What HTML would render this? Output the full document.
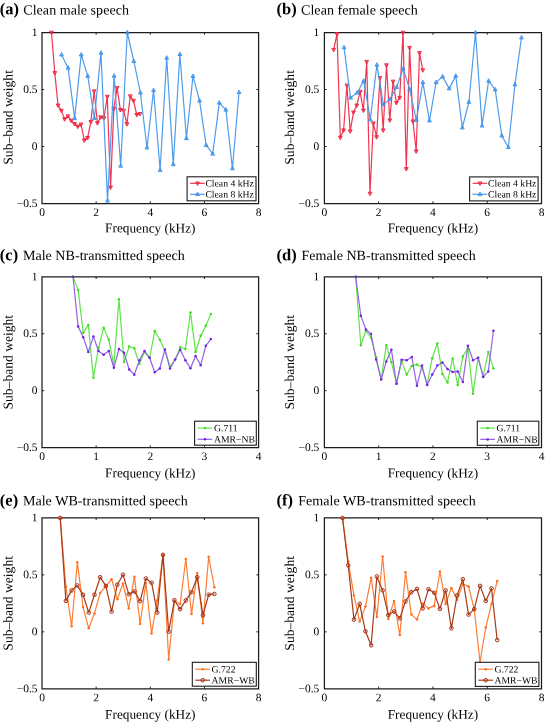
<!DOCTYPE html>
<html><head><meta charset="utf-8"><title>Sub-band weights</title><style>
html,body{margin:0;padding:0;background:#fff;}
body{width:545px;height:722px;overflow:hidden;font-family:"Liberation Serif",serif;}
svg{display:block;}
</style></head><body><svg width="545" height="722" viewBox="0 0 545 722" font-family="Liberation Serif, serif" fill="#000"><g opacity="0.999"><g><text transform="translate(42.00 216.00) matrix(1 0.001 0.001 1 0 0)" font-size="11.5" text-anchor="middle">0</text><path d="M96.15,203.5v-2.2M96.15,32.5v2.2" stroke="#1c1c1c" stroke-width="1"/><text transform="translate(96.15 216.00) matrix(1 0.001 0.001 1 0 0)" font-size="11.5" text-anchor="middle">2</text><path d="M150.30,203.5v-2.2M150.30,32.5v2.2" stroke="#1c1c1c" stroke-width="1"/><text transform="translate(150.30 216.00) matrix(1 0.001 0.001 1 0 0)" font-size="11.5" text-anchor="middle">4</text><path d="M204.45,203.5v-2.2M204.45,32.5v2.2" stroke="#1c1c1c" stroke-width="1"/><text transform="translate(204.45 216.00) matrix(1 0.001 0.001 1 0 0)" font-size="11.5" text-anchor="middle">6</text><text transform="translate(258.60 216.00) matrix(1 0.001 0.001 1 0 0)" font-size="11.5" text-anchor="middle">8</text><text transform="translate(37.60 35.90) matrix(1 0.001 0.001 1 0 0)" font-size="11.5" text-anchor="end">1</text><path d="M42.0,89.50h2.2M258.6,89.50h-2.2" stroke="#1c1c1c" stroke-width="1"/><text transform="translate(37.60 92.90) matrix(1 0.001 0.001 1 0 0)" font-size="11.5" text-anchor="end">0.5</text><path d="M42.0,146.50h2.2M258.6,146.50h-2.2" stroke="#1c1c1c" stroke-width="1"/><text transform="translate(37.60 149.90) matrix(1 0.001 0.001 1 0 0)" font-size="11.5" text-anchor="end">0</text><text transform="translate(37.60 206.90) matrix(1 0.001 0.001 1 0 0)" font-size="11.5" text-anchor="end">−0.5</text><path d="M42.0,32.5H258.6M42.0,203.5H258.6M42.0,32.5V203.5M258.6,32.5V203.5" fill="none" stroke="#1c1c1c" stroke-width="1.25" stroke-linecap="square"/><path d="M51.50,32.50L54.78,72.90L58.06,105.30L61.34,110.60L64.62,119.10L67.90,116.10L71.18,120.50L74.46,123.80L77.74,126.50L81.02,124.30L84.30,140.20L87.58,137.80L90.86,121.80L94.14,91.10L97.42,123.00L100.70,117.10L103.98,118.10L107.26,96.60L110.54,187.40L113.82,108.60L117.10,87.90L120.38,109.80L123.66,110.60L126.94,124.00L130.22,96.10L133.50,100.60L136.78,114.80L140.06,113.80" fill="none" stroke="#f03552" stroke-width="1.2" stroke-linejoin="round"/><path d="M49.60,31.20L53.40,31.20L51.50,34.70Z" fill="#f0203a" fill-opacity="0.5" stroke="#f0203a" stroke-width="0.9"/><path d="M52.88,71.60L56.68,71.60L54.78,75.10Z" fill="#f0203a" fill-opacity="0.5" stroke="#f0203a" stroke-width="0.9"/><path d="M56.16,104.00L59.96,104.00L58.06,107.50Z" fill="#f0203a" fill-opacity="0.5" stroke="#f0203a" stroke-width="0.9"/><path d="M59.44,109.30L63.24,109.30L61.34,112.80Z" fill="#f0203a" fill-opacity="0.5" stroke="#f0203a" stroke-width="0.9"/><path d="M62.72,117.80L66.52,117.80L64.62,121.30Z" fill="#f0203a" fill-opacity="0.5" stroke="#f0203a" stroke-width="0.9"/><path d="M66.00,114.80L69.80,114.80L67.90,118.30Z" fill="#f0203a" fill-opacity="0.5" stroke="#f0203a" stroke-width="0.9"/><path d="M69.28,119.20L73.08,119.20L71.18,122.70Z" fill="#f0203a" fill-opacity="0.5" stroke="#f0203a" stroke-width="0.9"/><path d="M72.56,122.50L76.36,122.50L74.46,126.00Z" fill="#f0203a" fill-opacity="0.5" stroke="#f0203a" stroke-width="0.9"/><path d="M75.84,125.20L79.64,125.20L77.74,128.70Z" fill="#f0203a" fill-opacity="0.5" stroke="#f0203a" stroke-width="0.9"/><path d="M79.12,123.00L82.92,123.00L81.02,126.50Z" fill="#f0203a" fill-opacity="0.5" stroke="#f0203a" stroke-width="0.9"/><path d="M82.40,138.90L86.20,138.90L84.30,142.40Z" fill="#f0203a" fill-opacity="0.5" stroke="#f0203a" stroke-width="0.9"/><path d="M85.68,136.50L89.48,136.50L87.58,140.00Z" fill="#f0203a" fill-opacity="0.5" stroke="#f0203a" stroke-width="0.9"/><path d="M88.96,120.50L92.76,120.50L90.86,124.00Z" fill="#f0203a" fill-opacity="0.5" stroke="#f0203a" stroke-width="0.9"/><path d="M92.24,89.80L96.04,89.80L94.14,93.30Z" fill="#f0203a" fill-opacity="0.5" stroke="#f0203a" stroke-width="0.9"/><path d="M95.52,121.70L99.32,121.70L97.42,125.20Z" fill="#f0203a" fill-opacity="0.5" stroke="#f0203a" stroke-width="0.9"/><path d="M98.80,115.80L102.60,115.80L100.70,119.30Z" fill="#f0203a" fill-opacity="0.5" stroke="#f0203a" stroke-width="0.9"/><path d="M102.08,116.80L105.88,116.80L103.98,120.30Z" fill="#f0203a" fill-opacity="0.5" stroke="#f0203a" stroke-width="0.9"/><path d="M105.36,95.30L109.16,95.30L107.26,98.80Z" fill="#f0203a" fill-opacity="0.5" stroke="#f0203a" stroke-width="0.9"/><path d="M108.64,186.10L112.44,186.10L110.54,189.60Z" fill="#f0203a" fill-opacity="0.5" stroke="#f0203a" stroke-width="0.9"/><path d="M111.92,107.30L115.72,107.30L113.82,110.80Z" fill="#f0203a" fill-opacity="0.5" stroke="#f0203a" stroke-width="0.9"/><path d="M115.20,86.60L119.00,86.60L117.10,90.10Z" fill="#f0203a" fill-opacity="0.5" stroke="#f0203a" stroke-width="0.9"/><path d="M118.48,108.50L122.28,108.50L120.38,112.00Z" fill="#f0203a" fill-opacity="0.5" stroke="#f0203a" stroke-width="0.9"/><path d="M121.76,109.30L125.56,109.30L123.66,112.80Z" fill="#f0203a" fill-opacity="0.5" stroke="#f0203a" stroke-width="0.9"/><path d="M125.04,122.70L128.84,122.70L126.94,126.20Z" fill="#f0203a" fill-opacity="0.5" stroke="#f0203a" stroke-width="0.9"/><path d="M128.32,94.80L132.12,94.80L130.22,98.30Z" fill="#f0203a" fill-opacity="0.5" stroke="#f0203a" stroke-width="0.9"/><path d="M131.60,99.30L135.40,99.30L133.50,102.80Z" fill="#f0203a" fill-opacity="0.5" stroke="#f0203a" stroke-width="0.9"/><path d="M134.88,113.50L138.68,113.50L136.78,117.00Z" fill="#f0203a" fill-opacity="0.5" stroke="#f0203a" stroke-width="0.9"/><path d="M138.16,112.50L141.96,112.50L140.06,116.00Z" fill="#f0203a" fill-opacity="0.5" stroke="#f0203a" stroke-width="0.9"/><path d="M61.50,54.70L68.08,67.90L74.65,118.30L81.22,54.70L87.80,76.10L94.38,118.30L100.95,52.90L107.53,200.80L114.10,75.90L120.68,165.90L127.25,32.50L133.82,61.20L140.40,92.80L146.98,147.70L153.55,90.30L160.12,170.10L166.70,57.90L173.28,164.40L179.85,54.20L186.43,138.40L193.00,76.10L199.58,100.80L206.15,145.20L212.72,153.90L219.30,102.80L225.88,109.80L232.45,168.40L239.03,92.30" fill="none" stroke="#4f9cec" stroke-width="1.2" stroke-linejoin="round"/><path d="M59.60,56.00L63.40,56.00L61.50,52.50Z" fill="#3a8ee6" fill-opacity="0.5" stroke="#3a8ee6" stroke-width="0.9"/><path d="M66.17,69.20L69.98,69.20L68.08,65.70Z" fill="#3a8ee6" fill-opacity="0.5" stroke="#3a8ee6" stroke-width="0.9"/><path d="M72.75,119.60L76.55,119.60L74.65,116.10Z" fill="#3a8ee6" fill-opacity="0.5" stroke="#3a8ee6" stroke-width="0.9"/><path d="M79.32,56.00L83.12,56.00L81.22,52.50Z" fill="#3a8ee6" fill-opacity="0.5" stroke="#3a8ee6" stroke-width="0.9"/><path d="M85.90,77.40L89.70,77.40L87.80,73.90Z" fill="#3a8ee6" fill-opacity="0.5" stroke="#3a8ee6" stroke-width="0.9"/><path d="M92.47,119.60L96.28,119.60L94.38,116.10Z" fill="#3a8ee6" fill-opacity="0.5" stroke="#3a8ee6" stroke-width="0.9"/><path d="M99.05,54.20L102.85,54.20L100.95,50.70Z" fill="#3a8ee6" fill-opacity="0.5" stroke="#3a8ee6" stroke-width="0.9"/><path d="M105.62,202.10L109.43,202.10L107.53,198.60Z" fill="#3a8ee6" fill-opacity="0.5" stroke="#3a8ee6" stroke-width="0.9"/><path d="M112.20,77.20L116.00,77.20L114.10,73.70Z" fill="#3a8ee6" fill-opacity="0.5" stroke="#3a8ee6" stroke-width="0.9"/><path d="M118.78,167.20L122.58,167.20L120.68,163.70Z" fill="#3a8ee6" fill-opacity="0.5" stroke="#3a8ee6" stroke-width="0.9"/><path d="M125.35,33.80L129.15,33.80L127.25,30.30Z" fill="#3a8ee6" fill-opacity="0.5" stroke="#3a8ee6" stroke-width="0.9"/><path d="M131.92,62.50L135.72,62.50L133.82,59.00Z" fill="#3a8ee6" fill-opacity="0.5" stroke="#3a8ee6" stroke-width="0.9"/><path d="M138.50,94.10L142.30,94.10L140.40,90.60Z" fill="#3a8ee6" fill-opacity="0.5" stroke="#3a8ee6" stroke-width="0.9"/><path d="M145.08,149.00L148.88,149.00L146.98,145.50Z" fill="#3a8ee6" fill-opacity="0.5" stroke="#3a8ee6" stroke-width="0.9"/><path d="M151.65,91.60L155.45,91.60L153.55,88.10Z" fill="#3a8ee6" fill-opacity="0.5" stroke="#3a8ee6" stroke-width="0.9"/><path d="M158.22,171.40L162.03,171.40L160.12,167.90Z" fill="#3a8ee6" fill-opacity="0.5" stroke="#3a8ee6" stroke-width="0.9"/><path d="M164.80,59.20L168.60,59.20L166.70,55.70Z" fill="#3a8ee6" fill-opacity="0.5" stroke="#3a8ee6" stroke-width="0.9"/><path d="M171.38,165.70L175.18,165.70L173.28,162.20Z" fill="#3a8ee6" fill-opacity="0.5" stroke="#3a8ee6" stroke-width="0.9"/><path d="M177.95,55.50L181.75,55.50L179.85,52.00Z" fill="#3a8ee6" fill-opacity="0.5" stroke="#3a8ee6" stroke-width="0.9"/><path d="M184.53,139.70L188.33,139.70L186.43,136.20Z" fill="#3a8ee6" fill-opacity="0.5" stroke="#3a8ee6" stroke-width="0.9"/><path d="M191.10,77.40L194.90,77.40L193.00,73.90Z" fill="#3a8ee6" fill-opacity="0.5" stroke="#3a8ee6" stroke-width="0.9"/><path d="M197.68,102.10L201.48,102.10L199.58,98.60Z" fill="#3a8ee6" fill-opacity="0.5" stroke="#3a8ee6" stroke-width="0.9"/><path d="M204.25,146.50L208.05,146.50L206.15,143.00Z" fill="#3a8ee6" fill-opacity="0.5" stroke="#3a8ee6" stroke-width="0.9"/><path d="M210.82,155.20L214.62,155.20L212.72,151.70Z" fill="#3a8ee6" fill-opacity="0.5" stroke="#3a8ee6" stroke-width="0.9"/><path d="M217.40,104.10L221.20,104.10L219.30,100.60Z" fill="#3a8ee6" fill-opacity="0.5" stroke="#3a8ee6" stroke-width="0.9"/><path d="M223.97,111.10L227.78,111.10L225.88,107.60Z" fill="#3a8ee6" fill-opacity="0.5" stroke="#3a8ee6" stroke-width="0.9"/><path d="M230.55,169.70L234.35,169.70L232.45,166.20Z" fill="#3a8ee6" fill-opacity="0.5" stroke="#3a8ee6" stroke-width="0.9"/><path d="M237.12,93.60L240.93,93.60L239.03,90.10Z" fill="#3a8ee6" fill-opacity="0.5" stroke="#3a8ee6" stroke-width="0.9"/><rect x="187.1" y="176.8" width="68.90" height="24.00" fill="#fff" stroke="#1c1c1c" stroke-width="1.1"/><path d="M190.10,183.3H204.70" stroke="#f03552" stroke-width="1.2"/><path d="M195.60,182.00L199.40,182.00L197.50,185.50Z" fill="#f0203a" fill-opacity="0.5" stroke="#f0203a" stroke-width="0.9"/><text transform="translate(205.40 186.50) matrix(1 0.001 0.001 1 0 0)" font-size="9.7">Clean 4 kHz</text><path d="M190.10,194.3H204.70" stroke="#4f9cec" stroke-width="1.2"/><path d="M195.60,195.60L199.40,195.60L197.50,192.10Z" fill="#3a8ee6" fill-opacity="0.5" stroke="#3a8ee6" stroke-width="0.9"/><text transform="translate(205.40 197.50) matrix(1 0.001 0.001 1 0 0)" font-size="9.7">Clean 8 kHz</text><text transform="translate(-0.15 14.20) matrix(1 0.001 0.001 1 0 0)" font-size="16.5" font-weight="bold">(a)</text><text transform="translate(23.30 14.50) matrix(1 0.001 0.001 1 0 0)" font-size="14" textLength="105.65" lengthAdjust="spacingAndGlyphs">Clean male speech</text><text transform="translate(150.30 232.40) matrix(1 0.001 0.001 1 0 0)" font-size="13.3" text-anchor="middle">Frequency (kHz)</text><text transform="translate(12.50 117.40) rotate(-90) matrix(1 0.001 0.001 1 0 0)" font-size="13.5" text-anchor="middle" textLength="94.60" lengthAdjust="spacingAndGlyphs">Sub–band weight</text></g><g><text transform="translate(324.40 216.00) matrix(1 0.001 0.001 1 0 0)" font-size="11.5" text-anchor="middle">0</text><path d="M378.67,203.5v-2.2M378.67,32.5v2.2" stroke="#1c1c1c" stroke-width="1"/><text transform="translate(378.67 216.00) matrix(1 0.001 0.001 1 0 0)" font-size="11.5" text-anchor="middle">2</text><path d="M432.95,203.5v-2.2M432.95,32.5v2.2" stroke="#1c1c1c" stroke-width="1"/><text transform="translate(432.95 216.00) matrix(1 0.001 0.001 1 0 0)" font-size="11.5" text-anchor="middle">4</text><path d="M487.23,203.5v-2.2M487.23,32.5v2.2" stroke="#1c1c1c" stroke-width="1"/><text transform="translate(487.23 216.00) matrix(1 0.001 0.001 1 0 0)" font-size="11.5" text-anchor="middle">6</text><text transform="translate(541.50 216.00) matrix(1 0.001 0.001 1 0 0)" font-size="11.5" text-anchor="middle">8</text><text transform="translate(319.35 35.90) matrix(1 0.001 0.001 1 0 0)" font-size="11.5" text-anchor="end">1</text><path d="M324.4,89.50h2.2M541.5,89.50h-2.2" stroke="#1c1c1c" stroke-width="1"/><text transform="translate(319.35 92.90) matrix(1 0.001 0.001 1 0 0)" font-size="11.5" text-anchor="end">0.5</text><path d="M324.4,146.50h2.2M541.5,146.50h-2.2" stroke="#1c1c1c" stroke-width="1"/><text transform="translate(319.35 149.90) matrix(1 0.001 0.001 1 0 0)" font-size="11.5" text-anchor="end">0</text><text transform="translate(319.35 206.90) matrix(1 0.001 0.001 1 0 0)" font-size="11.5" text-anchor="end">−0.5</text><path d="M324.4,32.5H541.5M324.4,203.5H541.5M324.4,32.5V203.5M541.5,32.5V203.5" fill="none" stroke="#1c1c1c" stroke-width="1.25" stroke-linecap="square"/><path d="M333.70,49.70L337.00,34.00L340.30,137.50L343.60,130.20L346.90,85.30L350.20,131.20L353.50,112.30L356.80,105.30L360.10,91.60L363.40,110.30L366.70,61.70L370.00,193.50L373.30,123.20L376.60,137.00L379.90,77.90L383.20,130.20L386.50,65.10L389.80,120.20L393.10,81.40L396.40,102.80L399.70,97.60L403.00,32.50L406.30,168.90L409.60,47.70L412.90,121.20L416.20,151.20L419.50,52.90L422.80,70.10" fill="none" stroke="#f03552" stroke-width="1.2" stroke-linejoin="round"/><path d="M331.80,48.40L335.60,48.40L333.70,51.90Z" fill="#f0203a" fill-opacity="0.5" stroke="#f0203a" stroke-width="0.9"/><path d="M335.10,32.70L338.90,32.70L337.00,36.20Z" fill="#f0203a" fill-opacity="0.5" stroke="#f0203a" stroke-width="0.9"/><path d="M338.40,136.20L342.20,136.20L340.30,139.70Z" fill="#f0203a" fill-opacity="0.5" stroke="#f0203a" stroke-width="0.9"/><path d="M341.70,128.90L345.50,128.90L343.60,132.40Z" fill="#f0203a" fill-opacity="0.5" stroke="#f0203a" stroke-width="0.9"/><path d="M345.00,84.00L348.80,84.00L346.90,87.50Z" fill="#f0203a" fill-opacity="0.5" stroke="#f0203a" stroke-width="0.9"/><path d="M348.30,129.90L352.10,129.90L350.20,133.40Z" fill="#f0203a" fill-opacity="0.5" stroke="#f0203a" stroke-width="0.9"/><path d="M351.60,111.00L355.40,111.00L353.50,114.50Z" fill="#f0203a" fill-opacity="0.5" stroke="#f0203a" stroke-width="0.9"/><path d="M354.90,104.00L358.70,104.00L356.80,107.50Z" fill="#f0203a" fill-opacity="0.5" stroke="#f0203a" stroke-width="0.9"/><path d="M358.20,90.30L362.00,90.30L360.10,93.80Z" fill="#f0203a" fill-opacity="0.5" stroke="#f0203a" stroke-width="0.9"/><path d="M361.50,109.00L365.30,109.00L363.40,112.50Z" fill="#f0203a" fill-opacity="0.5" stroke="#f0203a" stroke-width="0.9"/><path d="M364.80,60.40L368.60,60.40L366.70,63.90Z" fill="#f0203a" fill-opacity="0.5" stroke="#f0203a" stroke-width="0.9"/><path d="M368.10,192.20L371.90,192.20L370.00,195.70Z" fill="#f0203a" fill-opacity="0.5" stroke="#f0203a" stroke-width="0.9"/><path d="M371.40,121.90L375.20,121.90L373.30,125.40Z" fill="#f0203a" fill-opacity="0.5" stroke="#f0203a" stroke-width="0.9"/><path d="M374.70,135.70L378.50,135.70L376.60,139.20Z" fill="#f0203a" fill-opacity="0.5" stroke="#f0203a" stroke-width="0.9"/><path d="M378.00,76.60L381.80,76.60L379.90,80.10Z" fill="#f0203a" fill-opacity="0.5" stroke="#f0203a" stroke-width="0.9"/><path d="M381.30,128.90L385.10,128.90L383.20,132.40Z" fill="#f0203a" fill-opacity="0.5" stroke="#f0203a" stroke-width="0.9"/><path d="M384.60,63.80L388.40,63.80L386.50,67.30Z" fill="#f0203a" fill-opacity="0.5" stroke="#f0203a" stroke-width="0.9"/><path d="M387.90,118.90L391.70,118.90L389.80,122.40Z" fill="#f0203a" fill-opacity="0.5" stroke="#f0203a" stroke-width="0.9"/><path d="M391.20,80.10L395.00,80.10L393.10,83.60Z" fill="#f0203a" fill-opacity="0.5" stroke="#f0203a" stroke-width="0.9"/><path d="M394.50,101.50L398.30,101.50L396.40,105.00Z" fill="#f0203a" fill-opacity="0.5" stroke="#f0203a" stroke-width="0.9"/><path d="M397.80,96.30L401.60,96.30L399.70,99.80Z" fill="#f0203a" fill-opacity="0.5" stroke="#f0203a" stroke-width="0.9"/><path d="M401.10,31.20L404.90,31.20L403.00,34.70Z" fill="#f0203a" fill-opacity="0.5" stroke="#f0203a" stroke-width="0.9"/><path d="M404.40,167.60L408.20,167.60L406.30,171.10Z" fill="#f0203a" fill-opacity="0.5" stroke="#f0203a" stroke-width="0.9"/><path d="M407.70,46.40L411.50,46.40L409.60,49.90Z" fill="#f0203a" fill-opacity="0.5" stroke="#f0203a" stroke-width="0.9"/><path d="M411.00,119.90L414.80,119.90L412.90,123.40Z" fill="#f0203a" fill-opacity="0.5" stroke="#f0203a" stroke-width="0.9"/><path d="M414.30,149.90L418.10,149.90L416.20,153.40Z" fill="#f0203a" fill-opacity="0.5" stroke="#f0203a" stroke-width="0.9"/><path d="M417.60,51.60L421.40,51.60L419.50,55.10Z" fill="#f0203a" fill-opacity="0.5" stroke="#f0203a" stroke-width="0.9"/><path d="M420.90,68.80L424.70,68.80L422.80,72.30Z" fill="#f0203a" fill-opacity="0.5" stroke="#f0203a" stroke-width="0.9"/><path d="M344.00,47.40L350.57,97.80L357.15,92.80L363.72,80.90L370.30,119.70L376.87,64.90L383.44,104.50L390.02,99.10L396.59,87.10L403.17,68.60L409.74,89.60L416.31,120.20L422.89,82.40L429.46,120.70L436.04,82.40L442.61,76.60L449.18,88.60L455.76,75.90L462.33,127.70L468.91,102.00L475.48,32.50L482.05,125.70L488.63,80.90L495.20,89.60L501.78,135.70L508.35,147.20L514.92,84.60L521.50,37.50" fill="none" stroke="#4f9cec" stroke-width="1.2" stroke-linejoin="round"/><path d="M342.10,48.70L345.90,48.70L344.00,45.20Z" fill="#3a8ee6" fill-opacity="0.5" stroke="#3a8ee6" stroke-width="0.9"/><path d="M348.67,99.10L352.47,99.10L350.57,95.60Z" fill="#3a8ee6" fill-opacity="0.5" stroke="#3a8ee6" stroke-width="0.9"/><path d="M355.25,94.10L359.05,94.10L357.15,90.60Z" fill="#3a8ee6" fill-opacity="0.5" stroke="#3a8ee6" stroke-width="0.9"/><path d="M361.82,82.20L365.62,82.20L363.72,78.70Z" fill="#3a8ee6" fill-opacity="0.5" stroke="#3a8ee6" stroke-width="0.9"/><path d="M368.40,121.00L372.20,121.00L370.30,117.50Z" fill="#3a8ee6" fill-opacity="0.5" stroke="#3a8ee6" stroke-width="0.9"/><path d="M374.97,66.20L378.77,66.20L376.87,62.70Z" fill="#3a8ee6" fill-opacity="0.5" stroke="#3a8ee6" stroke-width="0.9"/><path d="M381.54,105.80L385.34,105.80L383.44,102.30Z" fill="#3a8ee6" fill-opacity="0.5" stroke="#3a8ee6" stroke-width="0.9"/><path d="M388.12,100.40L391.92,100.40L390.02,96.90Z" fill="#3a8ee6" fill-opacity="0.5" stroke="#3a8ee6" stroke-width="0.9"/><path d="M394.69,88.40L398.49,88.40L396.59,84.90Z" fill="#3a8ee6" fill-opacity="0.5" stroke="#3a8ee6" stroke-width="0.9"/><path d="M401.27,69.90L405.07,69.90L403.17,66.40Z" fill="#3a8ee6" fill-opacity="0.5" stroke="#3a8ee6" stroke-width="0.9"/><path d="M407.84,90.90L411.64,90.90L409.74,87.40Z" fill="#3a8ee6" fill-opacity="0.5" stroke="#3a8ee6" stroke-width="0.9"/><path d="M414.41,121.50L418.21,121.50L416.31,118.00Z" fill="#3a8ee6" fill-opacity="0.5" stroke="#3a8ee6" stroke-width="0.9"/><path d="M420.99,83.70L424.79,83.70L422.89,80.20Z" fill="#3a8ee6" fill-opacity="0.5" stroke="#3a8ee6" stroke-width="0.9"/><path d="M427.56,122.00L431.36,122.00L429.46,118.50Z" fill="#3a8ee6" fill-opacity="0.5" stroke="#3a8ee6" stroke-width="0.9"/><path d="M434.14,83.70L437.94,83.70L436.04,80.20Z" fill="#3a8ee6" fill-opacity="0.5" stroke="#3a8ee6" stroke-width="0.9"/><path d="M440.71,77.90L444.51,77.90L442.61,74.40Z" fill="#3a8ee6" fill-opacity="0.5" stroke="#3a8ee6" stroke-width="0.9"/><path d="M447.28,89.90L451.08,89.90L449.18,86.40Z" fill="#3a8ee6" fill-opacity="0.5" stroke="#3a8ee6" stroke-width="0.9"/><path d="M453.86,77.20L457.66,77.20L455.76,73.70Z" fill="#3a8ee6" fill-opacity="0.5" stroke="#3a8ee6" stroke-width="0.9"/><path d="M460.43,129.00L464.23,129.00L462.33,125.50Z" fill="#3a8ee6" fill-opacity="0.5" stroke="#3a8ee6" stroke-width="0.9"/><path d="M467.01,103.30L470.81,103.30L468.91,99.80Z" fill="#3a8ee6" fill-opacity="0.5" stroke="#3a8ee6" stroke-width="0.9"/><path d="M473.58,33.80L477.38,33.80L475.48,30.30Z" fill="#3a8ee6" fill-opacity="0.5" stroke="#3a8ee6" stroke-width="0.9"/><path d="M480.15,127.00L483.95,127.00L482.05,123.50Z" fill="#3a8ee6" fill-opacity="0.5" stroke="#3a8ee6" stroke-width="0.9"/><path d="M486.73,82.20L490.53,82.20L488.63,78.70Z" fill="#3a8ee6" fill-opacity="0.5" stroke="#3a8ee6" stroke-width="0.9"/><path d="M493.30,90.90L497.10,90.90L495.20,87.40Z" fill="#3a8ee6" fill-opacity="0.5" stroke="#3a8ee6" stroke-width="0.9"/><path d="M499.88,137.00L503.68,137.00L501.78,133.50Z" fill="#3a8ee6" fill-opacity="0.5" stroke="#3a8ee6" stroke-width="0.9"/><path d="M506.45,148.50L510.25,148.50L508.35,145.00Z" fill="#3a8ee6" fill-opacity="0.5" stroke="#3a8ee6" stroke-width="0.9"/><path d="M513.02,85.90L516.82,85.90L514.92,82.40Z" fill="#3a8ee6" fill-opacity="0.5" stroke="#3a8ee6" stroke-width="0.9"/><path d="M519.60,38.80L523.40,38.80L521.50,35.30Z" fill="#3a8ee6" fill-opacity="0.5" stroke="#3a8ee6" stroke-width="0.9"/><rect x="469.6" y="176.9" width="68.50" height="24.00" fill="#fff" stroke="#1c1c1c" stroke-width="1.1"/><path d="M472.60,183.3H487.20" stroke="#f03552" stroke-width="1.2"/><path d="M478.10,182.00L481.90,182.00L480.00,185.50Z" fill="#f0203a" fill-opacity="0.5" stroke="#f0203a" stroke-width="0.9"/><text transform="translate(488.00 186.50) matrix(1 0.001 0.001 1 0 0)" font-size="9.7">Clean 4 kHz</text><path d="M472.60,194.3H487.20" stroke="#4f9cec" stroke-width="1.2"/><path d="M478.10,195.60L481.90,195.60L480.00,192.10Z" fill="#3a8ee6" fill-opacity="0.5" stroke="#3a8ee6" stroke-width="0.9"/><text transform="translate(488.00 197.50) matrix(1 0.001 0.001 1 0 0)" font-size="9.7">Clean 8 kHz</text><text transform="translate(276.60 14.20) matrix(1 0.001 0.001 1 0 0)" font-size="16.5" font-weight="bold">(b)</text><text transform="translate(301.00 14.50) matrix(1 0.001 0.001 1 0 0)" font-size="14" textLength="116.93" lengthAdjust="spacingAndGlyphs">Clean female speech</text><text transform="translate(432.95 232.40) matrix(1 0.001 0.001 1 0 0)" font-size="13.3" text-anchor="middle">Frequency (kHz)</text><text transform="translate(294.00 117.40) rotate(-90) matrix(1 0.001 0.001 1 0 0)" font-size="13.5" text-anchor="middle" textLength="94.60" lengthAdjust="spacingAndGlyphs">Sub–band weight</text></g><g><text transform="translate(42.00 460.10) matrix(1 0.001 0.001 1 0 0)" font-size="11.5" text-anchor="middle">0</text><path d="M96.15,447.6v-2.2M96.15,276.8v2.2" stroke="#1c1c1c" stroke-width="1"/><text transform="translate(96.15 460.10) matrix(1 0.001 0.001 1 0 0)" font-size="11.5" text-anchor="middle">1</text><path d="M150.30,447.6v-2.2M150.30,276.8v2.2" stroke="#1c1c1c" stroke-width="1"/><text transform="translate(150.30 460.10) matrix(1 0.001 0.001 1 0 0)" font-size="11.5" text-anchor="middle">2</text><path d="M204.45,447.6v-2.2M204.45,276.8v2.2" stroke="#1c1c1c" stroke-width="1"/><text transform="translate(204.45 460.10) matrix(1 0.001 0.001 1 0 0)" font-size="11.5" text-anchor="middle">3</text><text transform="translate(258.60 460.10) matrix(1 0.001 0.001 1 0 0)" font-size="11.5" text-anchor="middle">4</text><text transform="translate(37.60 280.20) matrix(1 0.001 0.001 1 0 0)" font-size="11.5" text-anchor="end">1</text><path d="M42.0,333.73h2.2M258.6,333.73h-2.2" stroke="#1c1c1c" stroke-width="1"/><text transform="translate(37.60 337.13) matrix(1 0.001 0.001 1 0 0)" font-size="11.5" text-anchor="end">0.5</text><path d="M42.0,390.67h2.2M258.6,390.67h-2.2" stroke="#1c1c1c" stroke-width="1"/><text transform="translate(37.60 394.07) matrix(1 0.001 0.001 1 0 0)" font-size="11.5" text-anchor="end">0</text><text transform="translate(37.60 451.00) matrix(1 0.001 0.001 1 0 0)" font-size="11.5" text-anchor="end">−0.5</text><path d="M42.0,276.8H258.6M42.0,447.6H258.6M42.0,276.8V447.6M258.6,276.8V447.6" fill="none" stroke="#1c1c1c" stroke-width="1.25" stroke-linecap="square"/><path d="M73.00,276.80L78.11,289.90L83.21,332.80L88.32,324.90L93.43,377.70L98.53,347.80L103.64,327.80L108.75,339.80L113.86,364.70L118.96,299.20L124.07,362.00L129.18,346.50L134.28,348.30L139.39,364.00L144.50,352.00L149.61,357.80L154.71,331.10L159.82,339.80L164.93,350.80L170.03,366.50L175.14,359.50L180.25,347.30L185.35,349.00L190.46,312.40L195.57,352.00L200.68,335.80L205.78,325.80L210.89,314.10" fill="none" stroke="#5ee44a" stroke-width="1.2" stroke-linejoin="round"/><circle cx="73.00" cy="276.80" r="1.25" fill="#3cdc1e"/><circle cx="78.11" cy="289.90" r="1.25" fill="#3cdc1e"/><circle cx="83.21" cy="332.80" r="1.25" fill="#3cdc1e"/><circle cx="88.32" cy="324.90" r="1.25" fill="#3cdc1e"/><circle cx="93.43" cy="377.70" r="1.25" fill="#3cdc1e"/><circle cx="98.53" cy="347.80" r="1.25" fill="#3cdc1e"/><circle cx="103.64" cy="327.80" r="1.25" fill="#3cdc1e"/><circle cx="108.75" cy="339.80" r="1.25" fill="#3cdc1e"/><circle cx="113.86" cy="364.70" r="1.25" fill="#3cdc1e"/><circle cx="118.96" cy="299.20" r="1.25" fill="#3cdc1e"/><circle cx="124.07" cy="362.00" r="1.25" fill="#3cdc1e"/><circle cx="129.18" cy="346.50" r="1.25" fill="#3cdc1e"/><circle cx="134.28" cy="348.30" r="1.25" fill="#3cdc1e"/><circle cx="139.39" cy="364.00" r="1.25" fill="#3cdc1e"/><circle cx="144.50" cy="352.00" r="1.25" fill="#3cdc1e"/><circle cx="149.61" cy="357.80" r="1.25" fill="#3cdc1e"/><circle cx="154.71" cy="331.10" r="1.25" fill="#3cdc1e"/><circle cx="159.82" cy="339.80" r="1.25" fill="#3cdc1e"/><circle cx="164.93" cy="350.80" r="1.25" fill="#3cdc1e"/><circle cx="170.03" cy="366.50" r="1.25" fill="#3cdc1e"/><circle cx="175.14" cy="359.50" r="1.25" fill="#3cdc1e"/><circle cx="180.25" cy="347.30" r="1.25" fill="#3cdc1e"/><circle cx="185.35" cy="349.00" r="1.25" fill="#3cdc1e"/><circle cx="190.46" cy="312.40" r="1.25" fill="#3cdc1e"/><circle cx="195.57" cy="352.00" r="1.25" fill="#3cdc1e"/><circle cx="200.68" cy="335.80" r="1.25" fill="#3cdc1e"/><circle cx="205.78" cy="325.80" r="1.25" fill="#3cdc1e"/><circle cx="210.89" cy="314.10" r="1.25" fill="#3cdc1e"/><path d="M73.00,276.80L78.11,326.60L83.21,337.30L88.32,352.00L93.43,336.60L98.53,351.00L103.64,354.80L108.75,351.00L113.86,367.70L118.96,349.00L124.07,352.80L129.18,369.50L134.28,374.70L139.39,360.30L144.50,351.00L149.61,357.80L154.71,372.20L159.82,368.50L164.93,349.50L170.03,368.50L175.14,359.50L180.25,349.80L185.35,360.30L190.46,368.20L195.57,356.00L200.68,365.20L205.78,345.80L210.89,339.10" fill="none" stroke="#9560ea" stroke-width="1.2" stroke-linejoin="round"/><circle cx="73.00" cy="276.80" r="1.25" fill="#7020e0"/><circle cx="78.11" cy="326.60" r="1.25" fill="#7020e0"/><circle cx="83.21" cy="337.30" r="1.25" fill="#7020e0"/><circle cx="88.32" cy="352.00" r="1.25" fill="#7020e0"/><circle cx="93.43" cy="336.60" r="1.25" fill="#7020e0"/><circle cx="98.53" cy="351.00" r="1.25" fill="#7020e0"/><circle cx="103.64" cy="354.80" r="1.25" fill="#7020e0"/><circle cx="108.75" cy="351.00" r="1.25" fill="#7020e0"/><circle cx="113.86" cy="367.70" r="1.25" fill="#7020e0"/><circle cx="118.96" cy="349.00" r="1.25" fill="#7020e0"/><circle cx="124.07" cy="352.80" r="1.25" fill="#7020e0"/><circle cx="129.18" cy="369.50" r="1.25" fill="#7020e0"/><circle cx="134.28" cy="374.70" r="1.25" fill="#7020e0"/><circle cx="139.39" cy="360.30" r="1.25" fill="#7020e0"/><circle cx="144.50" cy="351.00" r="1.25" fill="#7020e0"/><circle cx="149.61" cy="357.80" r="1.25" fill="#7020e0"/><circle cx="154.71" cy="372.20" r="1.25" fill="#7020e0"/><circle cx="159.82" cy="368.50" r="1.25" fill="#7020e0"/><circle cx="164.93" cy="349.50" r="1.25" fill="#7020e0"/><circle cx="170.03" cy="368.50" r="1.25" fill="#7020e0"/><circle cx="175.14" cy="359.50" r="1.25" fill="#7020e0"/><circle cx="180.25" cy="349.80" r="1.25" fill="#7020e0"/><circle cx="185.35" cy="360.30" r="1.25" fill="#7020e0"/><circle cx="190.46" cy="368.20" r="1.25" fill="#7020e0"/><circle cx="195.57" cy="356.00" r="1.25" fill="#7020e0"/><circle cx="200.68" cy="365.20" r="1.25" fill="#7020e0"/><circle cx="205.78" cy="345.80" r="1.25" fill="#7020e0"/><circle cx="210.89" cy="339.10" r="1.25" fill="#7020e0"/><rect x="194.6" y="421.2" width="61.70" height="24.00" fill="#fff" stroke="#1c1c1c" stroke-width="1.1"/><path d="M197.60,428.1H212.20" stroke="#5ee44a" stroke-width="1.2"/><circle cx="205.00" cy="428.10" r="1.25" fill="#3cdc1e"/><text transform="translate(214.00 431.30) matrix(1 0.001 0.001 1 0 0)" font-size="9.7">G.711</text><path d="M197.60,439.3H212.20" stroke="#9560ea" stroke-width="1.2"/><circle cx="205.00" cy="439.30" r="1.25" fill="#7020e0"/><text transform="translate(214.00 442.50) matrix(1 0.001 0.001 1 0 0)" font-size="9.7">AMR−NB</text><text transform="translate(-0.15 260.30) matrix(1 0.001 0.001 1 0 0)" font-size="16.5" font-weight="bold">(c)</text><text transform="translate(22.90 259.90) matrix(1 0.001 0.001 1 0 0)" font-size="14" textLength="161.95" lengthAdjust="spacingAndGlyphs">Male NB-transmitted speech</text><text transform="translate(150.30 477.40) matrix(1 0.001 0.001 1 0 0)" font-size="13.3" text-anchor="middle">Frequency (kHz)</text><text transform="translate(12.50 362.20) rotate(-90) matrix(1 0.001 0.001 1 0 0)" font-size="13.5" text-anchor="middle" textLength="94.60" lengthAdjust="spacingAndGlyphs">Sub–band weight</text></g><g><text transform="translate(324.40 460.10) matrix(1 0.001 0.001 1 0 0)" font-size="11.5" text-anchor="middle">0</text><path d="M378.67,447.6v-2.2M378.67,276.8v2.2" stroke="#1c1c1c" stroke-width="1"/><text transform="translate(378.67 460.10) matrix(1 0.001 0.001 1 0 0)" font-size="11.5" text-anchor="middle">1</text><path d="M432.95,447.6v-2.2M432.95,276.8v2.2" stroke="#1c1c1c" stroke-width="1"/><text transform="translate(432.95 460.10) matrix(1 0.001 0.001 1 0 0)" font-size="11.5" text-anchor="middle">2</text><path d="M487.23,447.6v-2.2M487.23,276.8v2.2" stroke="#1c1c1c" stroke-width="1"/><text transform="translate(487.23 460.10) matrix(1 0.001 0.001 1 0 0)" font-size="11.5" text-anchor="middle">3</text><text transform="translate(541.50 460.10) matrix(1 0.001 0.001 1 0 0)" font-size="11.5" text-anchor="middle">4</text><text transform="translate(319.35 280.20) matrix(1 0.001 0.001 1 0 0)" font-size="11.5" text-anchor="end">1</text><path d="M324.4,333.73h2.2M541.5,333.73h-2.2" stroke="#1c1c1c" stroke-width="1"/><text transform="translate(319.35 337.13) matrix(1 0.001 0.001 1 0 0)" font-size="11.5" text-anchor="end">0.5</text><path d="M324.4,390.67h2.2M541.5,390.67h-2.2" stroke="#1c1c1c" stroke-width="1"/><text transform="translate(319.35 394.07) matrix(1 0.001 0.001 1 0 0)" font-size="11.5" text-anchor="end">0</text><text transform="translate(319.35 451.00) matrix(1 0.001 0.001 1 0 0)" font-size="11.5" text-anchor="end">−0.5</text><path d="M324.4,276.8H541.5M324.4,447.6H541.5M324.4,276.8V447.6M541.5,276.8V447.6" fill="none" stroke="#1c1c1c" stroke-width="1.25" stroke-linecap="square"/><path d="M355.70,276.80L360.80,345.20L365.90,331.00L371.00,337.70L376.10,357.20L381.20,378.90L386.30,345.20L391.40,362.10L396.50,383.80L401.60,361.40L406.70,374.60L411.80,365.90L416.90,364.40L422.00,367.60L427.10,384.60L432.20,358.20L437.30,343.40L442.40,373.90L447.50,382.60L452.60,358.40L457.70,385.10L462.80,356.40L467.90,348.20L473.00,393.80L478.10,357.70L483.20,376.40L488.30,351.90L493.40,368.40" fill="none" stroke="#5ee44a" stroke-width="1.2" stroke-linejoin="round"/><circle cx="355.70" cy="276.80" r="1.25" fill="#3cdc1e"/><circle cx="360.80" cy="345.20" r="1.25" fill="#3cdc1e"/><circle cx="365.90" cy="331.00" r="1.25" fill="#3cdc1e"/><circle cx="371.00" cy="337.70" r="1.25" fill="#3cdc1e"/><circle cx="376.10" cy="357.20" r="1.25" fill="#3cdc1e"/><circle cx="381.20" cy="378.90" r="1.25" fill="#3cdc1e"/><circle cx="386.30" cy="345.20" r="1.25" fill="#3cdc1e"/><circle cx="391.40" cy="362.10" r="1.25" fill="#3cdc1e"/><circle cx="396.50" cy="383.80" r="1.25" fill="#3cdc1e"/><circle cx="401.60" cy="361.40" r="1.25" fill="#3cdc1e"/><circle cx="406.70" cy="374.60" r="1.25" fill="#3cdc1e"/><circle cx="411.80" cy="365.90" r="1.25" fill="#3cdc1e"/><circle cx="416.90" cy="364.40" r="1.25" fill="#3cdc1e"/><circle cx="422.00" cy="367.60" r="1.25" fill="#3cdc1e"/><circle cx="427.10" cy="384.60" r="1.25" fill="#3cdc1e"/><circle cx="432.20" cy="358.20" r="1.25" fill="#3cdc1e"/><circle cx="437.30" cy="343.40" r="1.25" fill="#3cdc1e"/><circle cx="442.40" cy="373.90" r="1.25" fill="#3cdc1e"/><circle cx="447.50" cy="382.60" r="1.25" fill="#3cdc1e"/><circle cx="452.60" cy="358.40" r="1.25" fill="#3cdc1e"/><circle cx="457.70" cy="385.10" r="1.25" fill="#3cdc1e"/><circle cx="462.80" cy="356.40" r="1.25" fill="#3cdc1e"/><circle cx="467.90" cy="348.20" r="1.25" fill="#3cdc1e"/><circle cx="473.00" cy="393.80" r="1.25" fill="#3cdc1e"/><circle cx="478.10" cy="357.70" r="1.25" fill="#3cdc1e"/><circle cx="483.20" cy="376.40" r="1.25" fill="#3cdc1e"/><circle cx="488.30" cy="351.90" r="1.25" fill="#3cdc1e"/><circle cx="493.40" cy="368.40" r="1.25" fill="#3cdc1e"/><path d="M355.70,276.80L360.80,315.80L365.90,329.50L371.00,334.00L376.10,359.40L381.20,379.60L386.30,361.40L391.40,349.70L396.50,383.80L401.60,359.70L406.70,360.20L411.80,356.90L416.90,385.80L422.00,365.60L427.10,385.10L432.20,374.60L437.30,365.60L442.40,362.60L447.50,368.90L452.60,371.90L457.70,371.40L462.80,382.10L467.90,345.70L473.00,360.20L478.10,357.70L483.20,376.90L488.30,371.40L493.40,330.70" fill="none" stroke="#9560ea" stroke-width="1.2" stroke-linejoin="round"/><circle cx="355.70" cy="276.80" r="1.25" fill="#7020e0"/><circle cx="360.80" cy="315.80" r="1.25" fill="#7020e0"/><circle cx="365.90" cy="329.50" r="1.25" fill="#7020e0"/><circle cx="371.00" cy="334.00" r="1.25" fill="#7020e0"/><circle cx="376.10" cy="359.40" r="1.25" fill="#7020e0"/><circle cx="381.20" cy="379.60" r="1.25" fill="#7020e0"/><circle cx="386.30" cy="361.40" r="1.25" fill="#7020e0"/><circle cx="391.40" cy="349.70" r="1.25" fill="#7020e0"/><circle cx="396.50" cy="383.80" r="1.25" fill="#7020e0"/><circle cx="401.60" cy="359.70" r="1.25" fill="#7020e0"/><circle cx="406.70" cy="360.20" r="1.25" fill="#7020e0"/><circle cx="411.80" cy="356.90" r="1.25" fill="#7020e0"/><circle cx="416.90" cy="385.80" r="1.25" fill="#7020e0"/><circle cx="422.00" cy="365.60" r="1.25" fill="#7020e0"/><circle cx="427.10" cy="385.10" r="1.25" fill="#7020e0"/><circle cx="432.20" cy="374.60" r="1.25" fill="#7020e0"/><circle cx="437.30" cy="365.60" r="1.25" fill="#7020e0"/><circle cx="442.40" cy="362.60" r="1.25" fill="#7020e0"/><circle cx="447.50" cy="368.90" r="1.25" fill="#7020e0"/><circle cx="452.60" cy="371.90" r="1.25" fill="#7020e0"/><circle cx="457.70" cy="371.40" r="1.25" fill="#7020e0"/><circle cx="462.80" cy="382.10" r="1.25" fill="#7020e0"/><circle cx="467.90" cy="345.70" r="1.25" fill="#7020e0"/><circle cx="473.00" cy="360.20" r="1.25" fill="#7020e0"/><circle cx="478.10" cy="357.70" r="1.25" fill="#7020e0"/><circle cx="483.20" cy="376.90" r="1.25" fill="#7020e0"/><circle cx="488.30" cy="371.40" r="1.25" fill="#7020e0"/><circle cx="493.40" cy="330.70" r="1.25" fill="#7020e0"/><rect x="477.3" y="421.2" width="61.50" height="24.10" fill="#fff" stroke="#1c1c1c" stroke-width="1.1"/><path d="M480.30,428.1H494.90" stroke="#5ee44a" stroke-width="1.2"/><circle cx="487.70" cy="428.10" r="1.25" fill="#3cdc1e"/><text transform="translate(496.60 431.30) matrix(1 0.001 0.001 1 0 0)" font-size="9.7">G.711</text><path d="M480.30,439.4H494.90" stroke="#9560ea" stroke-width="1.2"/><circle cx="487.70" cy="439.40" r="1.25" fill="#7020e0"/><text transform="translate(496.60 442.60) matrix(1 0.001 0.001 1 0 0)" font-size="9.7">AMR−NB</text><text transform="translate(276.60 260.30) matrix(1 0.001 0.001 1 0 0)" font-size="16.5" font-weight="bold">(d)</text><text transform="translate(301.50 259.90) matrix(1 0.001 0.001 1 0 0)" font-size="14" textLength="174.29" lengthAdjust="spacingAndGlyphs">Female NB-transmitted speech</text><text transform="translate(432.95 477.40) matrix(1 0.001 0.001 1 0 0)" font-size="13.3" text-anchor="middle">Frequency (kHz)</text><text transform="translate(294.00 362.20) rotate(-90) matrix(1 0.001 0.001 1 0 0)" font-size="13.5" text-anchor="middle" textLength="94.60" lengthAdjust="spacingAndGlyphs">Sub–band weight</text></g><g><text transform="translate(42.00 701.30) matrix(1 0.001 0.001 1 0 0)" font-size="11.5" text-anchor="middle">0</text><path d="M96.15,688.8v-2.2M96.15,517.9v2.2" stroke="#1c1c1c" stroke-width="1"/><text transform="translate(96.15 701.30) matrix(1 0.001 0.001 1 0 0)" font-size="11.5" text-anchor="middle">2</text><path d="M150.30,688.8v-2.2M150.30,517.9v2.2" stroke="#1c1c1c" stroke-width="1"/><text transform="translate(150.30 701.30) matrix(1 0.001 0.001 1 0 0)" font-size="11.5" text-anchor="middle">4</text><path d="M204.45,688.8v-2.2M204.45,517.9v2.2" stroke="#1c1c1c" stroke-width="1"/><text transform="translate(204.45 701.30) matrix(1 0.001 0.001 1 0 0)" font-size="11.5" text-anchor="middle">6</text><text transform="translate(258.60 701.30) matrix(1 0.001 0.001 1 0 0)" font-size="11.5" text-anchor="middle">8</text><text transform="translate(37.60 521.30) matrix(1 0.001 0.001 1 0 0)" font-size="11.5" text-anchor="end">1</text><path d="M42.0,574.87h2.2M258.6,574.87h-2.2" stroke="#1c1c1c" stroke-width="1"/><text transform="translate(37.60 578.27) matrix(1 0.001 0.001 1 0 0)" font-size="11.5" text-anchor="end">0.5</text><path d="M42.0,631.83h2.2M258.6,631.83h-2.2" stroke="#1c1c1c" stroke-width="1"/><text transform="translate(37.60 635.23) matrix(1 0.001 0.001 1 0 0)" font-size="11.5" text-anchor="end">0</text><text transform="translate(37.60 692.20) matrix(1 0.001 0.001 1 0 0)" font-size="11.5" text-anchor="end">−0.5</text><path d="M42.0,517.9H258.6M42.0,688.8H258.6M42.0,517.9V688.8M258.6,517.9V688.8" fill="none" stroke="#1c1c1c" stroke-width="1.25" stroke-linecap="square"/><path d="M60.20,517.90L65.91,586.70L71.62,626.30L77.33,562.30L83.04,607.10L88.75,628.30L94.46,613.40L100.17,592.90L105.88,586.40L111.59,579.20L117.30,599.20L123.01,583.50L128.72,608.40L134.43,576.70L140.14,624.10L145.85,582.70L151.56,633.60L157.27,600.20L162.98,554.80L168.69,659.50L174.40,600.90L180.11,604.10L185.82,559.00L191.53,614.10L197.24,573.00L202.95,623.30L208.66,556.80L214.37,587.20" fill="none" stroke="#ff7c34" stroke-width="1.2" stroke-linejoin="round"/><circle cx="60.20" cy="517.90" r="1.25" fill="#ff6e1e"/><circle cx="65.91" cy="586.70" r="1.25" fill="#ff6e1e"/><circle cx="71.62" cy="626.30" r="1.25" fill="#ff6e1e"/><circle cx="77.33" cy="562.30" r="1.25" fill="#ff6e1e"/><circle cx="83.04" cy="607.10" r="1.25" fill="#ff6e1e"/><circle cx="88.75" cy="628.30" r="1.25" fill="#ff6e1e"/><circle cx="94.46" cy="613.40" r="1.25" fill="#ff6e1e"/><circle cx="100.17" cy="592.90" r="1.25" fill="#ff6e1e"/><circle cx="105.88" cy="586.40" r="1.25" fill="#ff6e1e"/><circle cx="111.59" cy="579.20" r="1.25" fill="#ff6e1e"/><circle cx="117.30" cy="599.20" r="1.25" fill="#ff6e1e"/><circle cx="123.01" cy="583.50" r="1.25" fill="#ff6e1e"/><circle cx="128.72" cy="608.40" r="1.25" fill="#ff6e1e"/><circle cx="134.43" cy="576.70" r="1.25" fill="#ff6e1e"/><circle cx="140.14" cy="624.10" r="1.25" fill="#ff6e1e"/><circle cx="145.85" cy="582.70" r="1.25" fill="#ff6e1e"/><circle cx="151.56" cy="633.60" r="1.25" fill="#ff6e1e"/><circle cx="157.27" cy="600.20" r="1.25" fill="#ff6e1e"/><circle cx="162.98" cy="554.80" r="1.25" fill="#ff6e1e"/><circle cx="168.69" cy="659.50" r="1.25" fill="#ff6e1e"/><circle cx="174.40" cy="600.90" r="1.25" fill="#ff6e1e"/><circle cx="180.11" cy="604.10" r="1.25" fill="#ff6e1e"/><circle cx="185.82" cy="559.00" r="1.25" fill="#ff6e1e"/><circle cx="191.53" cy="614.10" r="1.25" fill="#ff6e1e"/><circle cx="197.24" cy="573.00" r="1.25" fill="#ff6e1e"/><circle cx="202.95" cy="623.30" r="1.25" fill="#ff6e1e"/><circle cx="208.66" cy="556.80" r="1.25" fill="#ff6e1e"/><circle cx="214.37" cy="587.20" r="1.25" fill="#ff6e1e"/><path d="M60.20,517.90L65.91,600.90L71.62,590.40L77.33,585.40L83.04,594.70L88.75,612.60L94.46,594.70L100.17,577.20L105.88,585.90L111.59,611.60L117.30,584.70L123.01,574.70L128.72,594.20L134.43,591.40L140.14,601.20L145.85,578.50L151.56,582.70L157.27,612.60L162.98,554.80L168.69,631.60L174.40,600.20L180.11,609.10L185.82,600.40L191.53,592.20L197.24,577.20L202.95,615.40L208.66,594.70L214.37,593.90" fill="none" stroke="#a63a18" stroke-width="1.2" stroke-linejoin="round"/><circle cx="60.20" cy="517.90" r="1.8" fill="none" stroke="#a52d0f" stroke-width="1"/><circle cx="65.91" cy="600.90" r="1.8" fill="none" stroke="#a52d0f" stroke-width="1"/><circle cx="71.62" cy="590.40" r="1.8" fill="none" stroke="#a52d0f" stroke-width="1"/><circle cx="77.33" cy="585.40" r="1.8" fill="none" stroke="#a52d0f" stroke-width="1"/><circle cx="83.04" cy="594.70" r="1.8" fill="none" stroke="#a52d0f" stroke-width="1"/><circle cx="88.75" cy="612.60" r="1.8" fill="none" stroke="#a52d0f" stroke-width="1"/><circle cx="94.46" cy="594.70" r="1.8" fill="none" stroke="#a52d0f" stroke-width="1"/><circle cx="100.17" cy="577.20" r="1.8" fill="none" stroke="#a52d0f" stroke-width="1"/><circle cx="105.88" cy="585.90" r="1.8" fill="none" stroke="#a52d0f" stroke-width="1"/><circle cx="111.59" cy="611.60" r="1.8" fill="none" stroke="#a52d0f" stroke-width="1"/><circle cx="117.30" cy="584.70" r="1.8" fill="none" stroke="#a52d0f" stroke-width="1"/><circle cx="123.01" cy="574.70" r="1.8" fill="none" stroke="#a52d0f" stroke-width="1"/><circle cx="128.72" cy="594.20" r="1.8" fill="none" stroke="#a52d0f" stroke-width="1"/><circle cx="134.43" cy="591.40" r="1.8" fill="none" stroke="#a52d0f" stroke-width="1"/><circle cx="140.14" cy="601.20" r="1.8" fill="none" stroke="#a52d0f" stroke-width="1"/><circle cx="145.85" cy="578.50" r="1.8" fill="none" stroke="#a52d0f" stroke-width="1"/><circle cx="151.56" cy="582.70" r="1.8" fill="none" stroke="#a52d0f" stroke-width="1"/><circle cx="157.27" cy="612.60" r="1.8" fill="none" stroke="#a52d0f" stroke-width="1"/><circle cx="162.98" cy="554.80" r="1.8" fill="none" stroke="#a52d0f" stroke-width="1"/><circle cx="168.69" cy="631.60" r="1.8" fill="none" stroke="#a52d0f" stroke-width="1"/><circle cx="174.40" cy="600.20" r="1.8" fill="none" stroke="#a52d0f" stroke-width="1"/><circle cx="180.11" cy="609.10" r="1.8" fill="none" stroke="#a52d0f" stroke-width="1"/><circle cx="185.82" cy="600.40" r="1.8" fill="none" stroke="#a52d0f" stroke-width="1"/><circle cx="191.53" cy="592.20" r="1.8" fill="none" stroke="#a52d0f" stroke-width="1"/><circle cx="197.24" cy="577.20" r="1.8" fill="none" stroke="#a52d0f" stroke-width="1"/><circle cx="202.95" cy="615.40" r="1.8" fill="none" stroke="#a52d0f" stroke-width="1"/><circle cx="208.66" cy="594.70" r="1.8" fill="none" stroke="#a52d0f" stroke-width="1"/><circle cx="214.37" cy="593.90" r="1.8" fill="none" stroke="#a52d0f" stroke-width="1"/><rect x="192.3" y="662.3" width="64.00" height="23.90" fill="#fff" stroke="#1c1c1c" stroke-width="1.1"/><path d="M195.30,669.2H209.90" stroke="#ff7c34" stroke-width="1.2"/><circle cx="202.70" cy="669.20" r="1.25" fill="#ff6e1e"/><text transform="translate(211.60 672.40) matrix(1 0.001 0.001 1 0 0)" font-size="9.7">G.722</text><path d="M195.30,680.2H209.90" stroke="#a63a18" stroke-width="1.2"/><circle cx="202.70" cy="680.20" r="1.8" fill="none" stroke="#a52d0f" stroke-width="1"/><text transform="translate(211.60 683.40) matrix(1 0.001 0.001 1 0 0)" font-size="9.7">AMR−WB</text><text transform="translate(-0.15 505.40) matrix(1 0.001 0.001 1 0 0)" font-size="16.5" font-weight="bold">(e)</text><text transform="translate(22.90 505.20) matrix(1 0.001 0.001 1 0 0)" font-size="14" textLength="165.00" lengthAdjust="spacingAndGlyphs">Male WB-transmitted speech</text><text transform="translate(150.30 718.70) matrix(1 0.001 0.001 1 0 0)" font-size="13.3" text-anchor="middle">Frequency (kHz)</text><text transform="translate(12.50 603.35) rotate(-90) matrix(1 0.001 0.001 1 0 0)" font-size="13.5" text-anchor="middle" textLength="94.60" lengthAdjust="spacingAndGlyphs">Sub–band weight</text></g><g><text transform="translate(324.40 701.30) matrix(1 0.001 0.001 1 0 0)" font-size="11.5" text-anchor="middle">0</text><path d="M378.67,688.8v-2.2M378.67,517.9v2.2" stroke="#1c1c1c" stroke-width="1"/><text transform="translate(378.67 701.30) matrix(1 0.001 0.001 1 0 0)" font-size="11.5" text-anchor="middle">2</text><path d="M432.95,688.8v-2.2M432.95,517.9v2.2" stroke="#1c1c1c" stroke-width="1"/><text transform="translate(432.95 701.30) matrix(1 0.001 0.001 1 0 0)" font-size="11.5" text-anchor="middle">4</text><path d="M487.23,688.8v-2.2M487.23,517.9v2.2" stroke="#1c1c1c" stroke-width="1"/><text transform="translate(487.23 701.30) matrix(1 0.001 0.001 1 0 0)" font-size="11.5" text-anchor="middle">6</text><text transform="translate(541.50 701.30) matrix(1 0.001 0.001 1 0 0)" font-size="11.5" text-anchor="middle">8</text><text transform="translate(319.35 521.30) matrix(1 0.001 0.001 1 0 0)" font-size="11.5" text-anchor="end">1</text><path d="M324.4,574.87h2.2M541.5,574.87h-2.2" stroke="#1c1c1c" stroke-width="1"/><text transform="translate(319.35 578.27) matrix(1 0.001 0.001 1 0 0)" font-size="11.5" text-anchor="end">0.5</text><path d="M324.4,631.83h2.2M541.5,631.83h-2.2" stroke="#1c1c1c" stroke-width="1"/><text transform="translate(319.35 635.23) matrix(1 0.001 0.001 1 0 0)" font-size="11.5" text-anchor="end">0</text><text transform="translate(319.35 692.20) matrix(1 0.001 0.001 1 0 0)" font-size="11.5" text-anchor="end">−0.5</text><path d="M324.4,517.9H541.5M324.4,688.8H541.5M324.4,517.9V688.8M541.5,517.9V688.8" fill="none" stroke="#1c1c1c" stroke-width="1.25" stroke-linecap="square"/><path d="M342.50,517.90L348.23,561.50L353.96,595.40L359.69,621.40L365.42,606.60L371.15,577.70L376.88,617.10L382.61,556.50L388.34,618.90L394.07,600.90L399.80,635.10L405.53,572.20L411.26,614.60L416.99,619.60L422.72,603.40L428.45,608.40L434.18,605.90L439.91,571.50L445.64,603.90L451.37,587.90L457.10,599.70L462.83,584.00L468.56,586.40L474.29,609.60L480.02,662.00L485.75,627.60L491.48,603.90L497.21,581.00" fill="none" stroke="#ff7c34" stroke-width="1.2" stroke-linejoin="round"/><circle cx="342.50" cy="517.90" r="1.25" fill="#ff6e1e"/><circle cx="348.23" cy="561.50" r="1.25" fill="#ff6e1e"/><circle cx="353.96" cy="595.40" r="1.25" fill="#ff6e1e"/><circle cx="359.69" cy="621.40" r="1.25" fill="#ff6e1e"/><circle cx="365.42" cy="606.60" r="1.25" fill="#ff6e1e"/><circle cx="371.15" cy="577.70" r="1.25" fill="#ff6e1e"/><circle cx="376.88" cy="617.10" r="1.25" fill="#ff6e1e"/><circle cx="382.61" cy="556.50" r="1.25" fill="#ff6e1e"/><circle cx="388.34" cy="618.90" r="1.25" fill="#ff6e1e"/><circle cx="394.07" cy="600.90" r="1.25" fill="#ff6e1e"/><circle cx="399.80" cy="635.10" r="1.25" fill="#ff6e1e"/><circle cx="405.53" cy="572.20" r="1.25" fill="#ff6e1e"/><circle cx="411.26" cy="614.60" r="1.25" fill="#ff6e1e"/><circle cx="416.99" cy="619.60" r="1.25" fill="#ff6e1e"/><circle cx="422.72" cy="603.40" r="1.25" fill="#ff6e1e"/><circle cx="428.45" cy="608.40" r="1.25" fill="#ff6e1e"/><circle cx="434.18" cy="605.90" r="1.25" fill="#ff6e1e"/><circle cx="439.91" cy="571.50" r="1.25" fill="#ff6e1e"/><circle cx="445.64" cy="603.90" r="1.25" fill="#ff6e1e"/><circle cx="451.37" cy="587.90" r="1.25" fill="#ff6e1e"/><circle cx="457.10" cy="599.70" r="1.25" fill="#ff6e1e"/><circle cx="462.83" cy="584.00" r="1.25" fill="#ff6e1e"/><circle cx="468.56" cy="586.40" r="1.25" fill="#ff6e1e"/><circle cx="474.29" cy="609.60" r="1.25" fill="#ff6e1e"/><circle cx="480.02" cy="662.00" r="1.25" fill="#ff6e1e"/><circle cx="485.75" cy="627.60" r="1.25" fill="#ff6e1e"/><circle cx="491.48" cy="603.90" r="1.25" fill="#ff6e1e"/><circle cx="497.21" cy="581.00" r="1.25" fill="#ff6e1e"/><path d="M342.50,517.90L348.23,565.30L353.96,619.60L359.69,603.90L365.42,631.30L371.15,645.30L376.88,576.50L382.61,590.40L388.34,615.10L394.07,611.40L399.80,618.40L405.53,601.40L411.26,592.20L416.99,588.90L422.72,608.40L428.45,589.20L434.18,592.70L439.91,608.90L445.64,590.40L451.37,628.30L457.10,595.40L462.83,579.20L468.56,614.60L474.29,609.10L480.02,585.90L485.75,600.90L491.48,588.40L497.21,640.10" fill="none" stroke="#a63a18" stroke-width="1.2" stroke-linejoin="round"/><circle cx="342.50" cy="517.90" r="1.8" fill="none" stroke="#a52d0f" stroke-width="1"/><circle cx="348.23" cy="565.30" r="1.8" fill="none" stroke="#a52d0f" stroke-width="1"/><circle cx="353.96" cy="619.60" r="1.8" fill="none" stroke="#a52d0f" stroke-width="1"/><circle cx="359.69" cy="603.90" r="1.8" fill="none" stroke="#a52d0f" stroke-width="1"/><circle cx="365.42" cy="631.30" r="1.8" fill="none" stroke="#a52d0f" stroke-width="1"/><circle cx="371.15" cy="645.30" r="1.8" fill="none" stroke="#a52d0f" stroke-width="1"/><circle cx="376.88" cy="576.50" r="1.8" fill="none" stroke="#a52d0f" stroke-width="1"/><circle cx="382.61" cy="590.40" r="1.8" fill="none" stroke="#a52d0f" stroke-width="1"/><circle cx="388.34" cy="615.10" r="1.8" fill="none" stroke="#a52d0f" stroke-width="1"/><circle cx="394.07" cy="611.40" r="1.8" fill="none" stroke="#a52d0f" stroke-width="1"/><circle cx="399.80" cy="618.40" r="1.8" fill="none" stroke="#a52d0f" stroke-width="1"/><circle cx="405.53" cy="601.40" r="1.8" fill="none" stroke="#a52d0f" stroke-width="1"/><circle cx="411.26" cy="592.20" r="1.8" fill="none" stroke="#a52d0f" stroke-width="1"/><circle cx="416.99" cy="588.90" r="1.8" fill="none" stroke="#a52d0f" stroke-width="1"/><circle cx="422.72" cy="608.40" r="1.8" fill="none" stroke="#a52d0f" stroke-width="1"/><circle cx="428.45" cy="589.20" r="1.8" fill="none" stroke="#a52d0f" stroke-width="1"/><circle cx="434.18" cy="592.70" r="1.8" fill="none" stroke="#a52d0f" stroke-width="1"/><circle cx="439.91" cy="608.90" r="1.8" fill="none" stroke="#a52d0f" stroke-width="1"/><circle cx="445.64" cy="590.40" r="1.8" fill="none" stroke="#a52d0f" stroke-width="1"/><circle cx="451.37" cy="628.30" r="1.8" fill="none" stroke="#a52d0f" stroke-width="1"/><circle cx="457.10" cy="595.40" r="1.8" fill="none" stroke="#a52d0f" stroke-width="1"/><circle cx="462.83" cy="579.20" r="1.8" fill="none" stroke="#a52d0f" stroke-width="1"/><circle cx="468.56" cy="614.60" r="1.8" fill="none" stroke="#a52d0f" stroke-width="1"/><circle cx="474.29" cy="609.10" r="1.8" fill="none" stroke="#a52d0f" stroke-width="1"/><circle cx="480.02" cy="585.90" r="1.8" fill="none" stroke="#a52d0f" stroke-width="1"/><circle cx="485.75" cy="600.90" r="1.8" fill="none" stroke="#a52d0f" stroke-width="1"/><circle cx="491.48" cy="588.40" r="1.8" fill="none" stroke="#a52d0f" stroke-width="1"/><circle cx="497.21" cy="640.10" r="1.8" fill="none" stroke="#a52d0f" stroke-width="1"/><rect x="475.3" y="662.3" width="63.60" height="24.10" fill="#fff" stroke="#1c1c1c" stroke-width="1.1"/><path d="M478.30,669.2H492.90" stroke="#ff7c34" stroke-width="1.2"/><circle cx="485.70" cy="669.20" r="1.25" fill="#ff6e1e"/><text transform="translate(494.40 672.40) matrix(1 0.001 0.001 1 0 0)" font-size="9.7">G.722</text><path d="M478.30,680.2H492.90" stroke="#a63a18" stroke-width="1.2"/><circle cx="485.70" cy="680.20" r="1.8" fill="none" stroke="#a52d0f" stroke-width="1"/><text transform="translate(494.40 683.40) matrix(1 0.001 0.001 1 0 0)" font-size="9.7">AMR−WB</text><text transform="translate(276.60 505.40) matrix(1 0.001 0.001 1 0 0)" font-size="16.5" font-weight="bold">(f)</text><text transform="translate(298.20 505.20) matrix(1 0.001 0.001 1 0 0)" font-size="14" textLength="177.64" lengthAdjust="spacingAndGlyphs">Female WB-transmitted speech</text><text transform="translate(432.95 718.70) matrix(1 0.001 0.001 1 0 0)" font-size="13.3" text-anchor="middle">Frequency (kHz)</text><text transform="translate(294.00 603.35) rotate(-90) matrix(1 0.001 0.001 1 0 0)" font-size="13.5" text-anchor="middle" textLength="94.60" lengthAdjust="spacingAndGlyphs">Sub–band weight</text></g></g></svg></body></html>
